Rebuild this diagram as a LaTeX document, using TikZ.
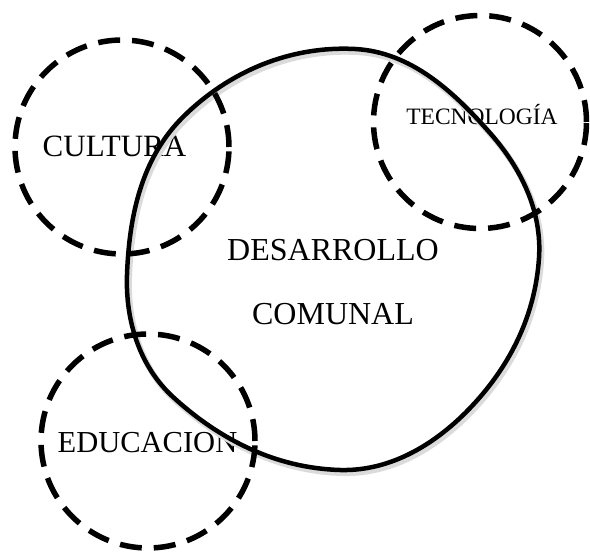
\documentclass[tikz,border=0pt]{standalone}
\usepackage{fontspec}
\setmainfont{Liberation Serif}
\begin{document}
\begin{tikzpicture}[x=1pt,y=-1pt,
  lbl/.style={anchor=base,inner sep=0pt,text=black},
  dashring/.style={draw=black,line width=5.5pt,dash pattern=on 22pt off 12pt,circle,inner sep=0pt,minimum size=#1},
  mainring/.style={draw=black,line width=4.5pt},
  mainshadow/.style={draw=black!14,line width=6pt}]
\useasboundingbox[fill=white] (0,0) rectangle (590,553);
% texts
\node[lbl,font=\fontsize{32}{32}\selectfont] (des) at (333,261) {DESARROLLO};
\node[lbl,font=\fontsize{32}{32}\selectfont] (com) at (333,325) {COMUNAL};
\node[lbl,font=\fontsize{31}{31}\selectfont] (cul) at (114.5,157) {CULTURA};
\node[lbl,font=\fontsize{23.5}{23.5}\selectfont] (tec) at (482,125) {TECNOLOGÍA};
\node[lbl,font=\fontsize{30.5}{30.5}\selectfont] (edu) at (147.5,453) {EDUCACION};
% main ring (shadow, then line)
\foreach \st/\dx/\dy in {mainshadow/2/3, mainring/0/0}{
\draw[\st,shift={(\dx,\dy)}] (355,49)
  .. controls (410.6,51.9) and (453.2,91.2) .. (490,133)
  .. controls (521.1,168.3) and (542.1,211.1) .. (539,258)
  .. controls (535.2,314.8) and (510.9,364.5) .. (472,406)
  .. controls (436.9,443.4) and (391.3,471.5) .. (340,470)
  .. controls (276.2,468.1) and (220.1,440.1) .. (173,397)
  .. controls (139.4,366.2) and (125.4,320.6) .. (127,275)
  .. controls (129.1,216.3) and (141.3,158.3) .. (183,117)
  .. controls (228.9,71.4) and (290.4,45.6) .. cycle;
}
% dashed rings
\node[dashring=214pt] (rcul) at (122,147) {};
\node[dashring=213pt] (rtec) at (480,122) {};
\node[dashring=214pt] (redu) at (148,441) {};
\end{tikzpicture}
\end{document}
